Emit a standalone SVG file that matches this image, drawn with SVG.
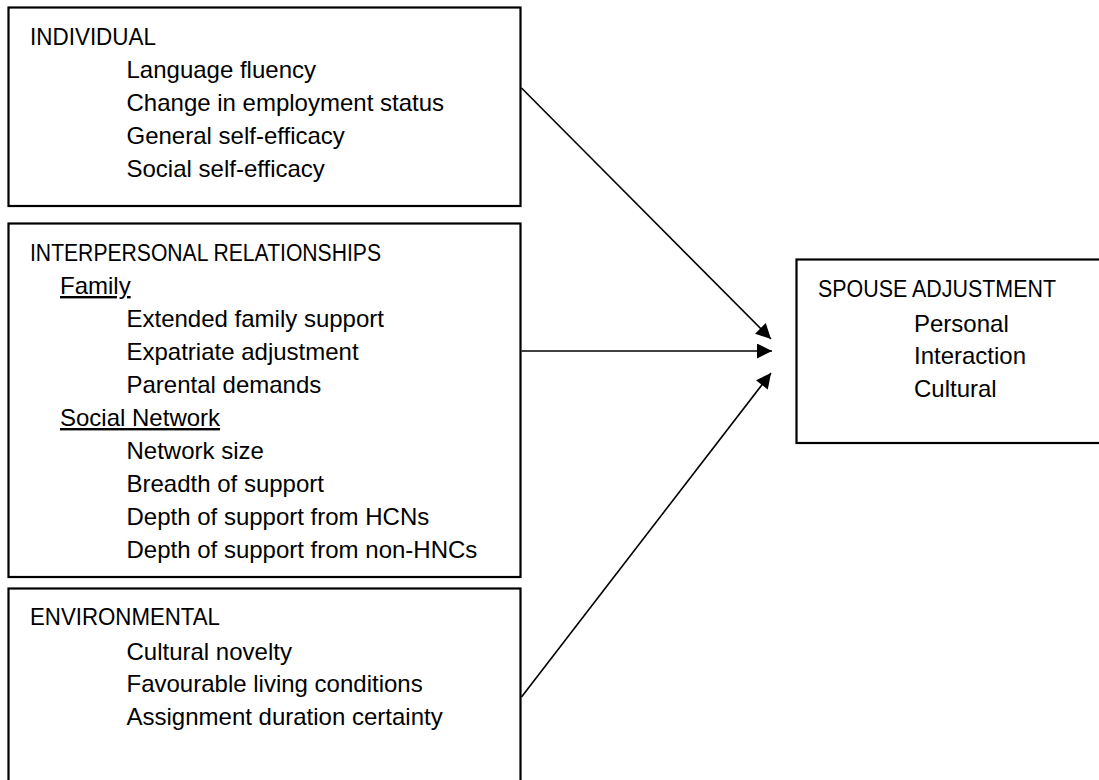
<svg xmlns="http://www.w3.org/2000/svg" width="1099" height="780" viewBox="0 0 1099 780">
<style>
.box{fill:#fff;stroke:#000;stroke-width:2.2}
.t{font-family:"Liberation Sans",Arial,sans-serif;font-size:24px;fill:#000}
.h{font-family:"Liberation Sans",Arial,sans-serif;font-size:23.5px;fill:#000}
.u{text-decoration:underline}
.c{stroke:#000;stroke-width:1.6;fill:none}
</style>
<defs>
<marker id="ah" viewBox="0 0 10 10" refX="10" refY="5" markerWidth="19" markerHeight="15" markerUnits="userSpaceOnUse" orient="auto">
<path d="M0,0 L10,5 L0,10 z" fill="#000"/>
</marker>
</defs>
<rect width="1099" height="780" fill="#fff"/>
<g id="individual">
<rect class="box" x="8.5" y="7.5" width="512" height="198.5"/>
<text class="h" x="30" y="45" textLength="126" lengthAdjust="spacingAndGlyphs">INDIVIDUAL</text>
<text class="t" x="126.5" y="78">Language fluency</text>
<text class="t" x="126.5" y="111">Change in employment status</text>
<text class="t" x="126.5" y="144">General self-efficacy</text>
<text class="t" x="126.5" y="177">Social self-efficacy</text>
</g>
<g id="interpersonal">
<rect class="box" x="8.5" y="223.5" width="512" height="353.5"/>
<text class="h" x="30" y="261" textLength="351" lengthAdjust="spacingAndGlyphs">INTERPERSONAL RELATIONSHIPS</text>
<text class="t u" x="60" y="294">Family</text>
<text class="t" x="126.5" y="327">Extended family support</text>
<text class="t" x="126.5" y="360">Expatriate adjustment</text>
<text class="t" x="126.5" y="393">Parental demands</text>
<text class="t u" x="60" y="426">Social Network</text>
<text class="t" x="126.5" y="459">Network size</text>
<text class="t" x="126.5" y="492">Breadth of support</text>
<text class="t" x="126.5" y="525">Depth of support from HCNs</text>
<text class="t" x="126.5" y="558">Depth of support from non-HNCs</text>
</g>
<g id="environmental">
<rect class="box" x="8.5" y="588.5" width="512" height="200"/>
<text class="h" x="30" y="625" textLength="190" lengthAdjust="spacingAndGlyphs">ENVIRONMENTAL</text>
<text class="t" x="126.5" y="660">Cultural novelty</text>
<text class="t" x="126.5" y="692">Favourable living conditions</text>
<text class="t" x="126.5" y="725">Assignment duration certainty</text>
</g>
<g id="spouse">
<rect class="box" x="796.5" y="259.5" width="310" height="183.5"/>
<text class="h" x="818" y="297" textLength="238" lengthAdjust="spacingAndGlyphs">SPOUSE ADJUSTMENT</text>
<text class="t" x="914" y="332">Personal</text>
<text class="t" x="914" y="364">Interaction</text>
<text class="t" x="914" y="397">Cultural</text>
</g>
<g id="connectors">
<line class="c" x1="521.5" y1="88" x2="771" y2="339" marker-end="url(#ah)"/>
<line class="c" x1="521.5" y1="351" x2="772" y2="351" marker-end="url(#ah)"/>
<line class="c" x1="521.5" y1="697" x2="771" y2="373" marker-end="url(#ah)"/>
</g>
</svg>
